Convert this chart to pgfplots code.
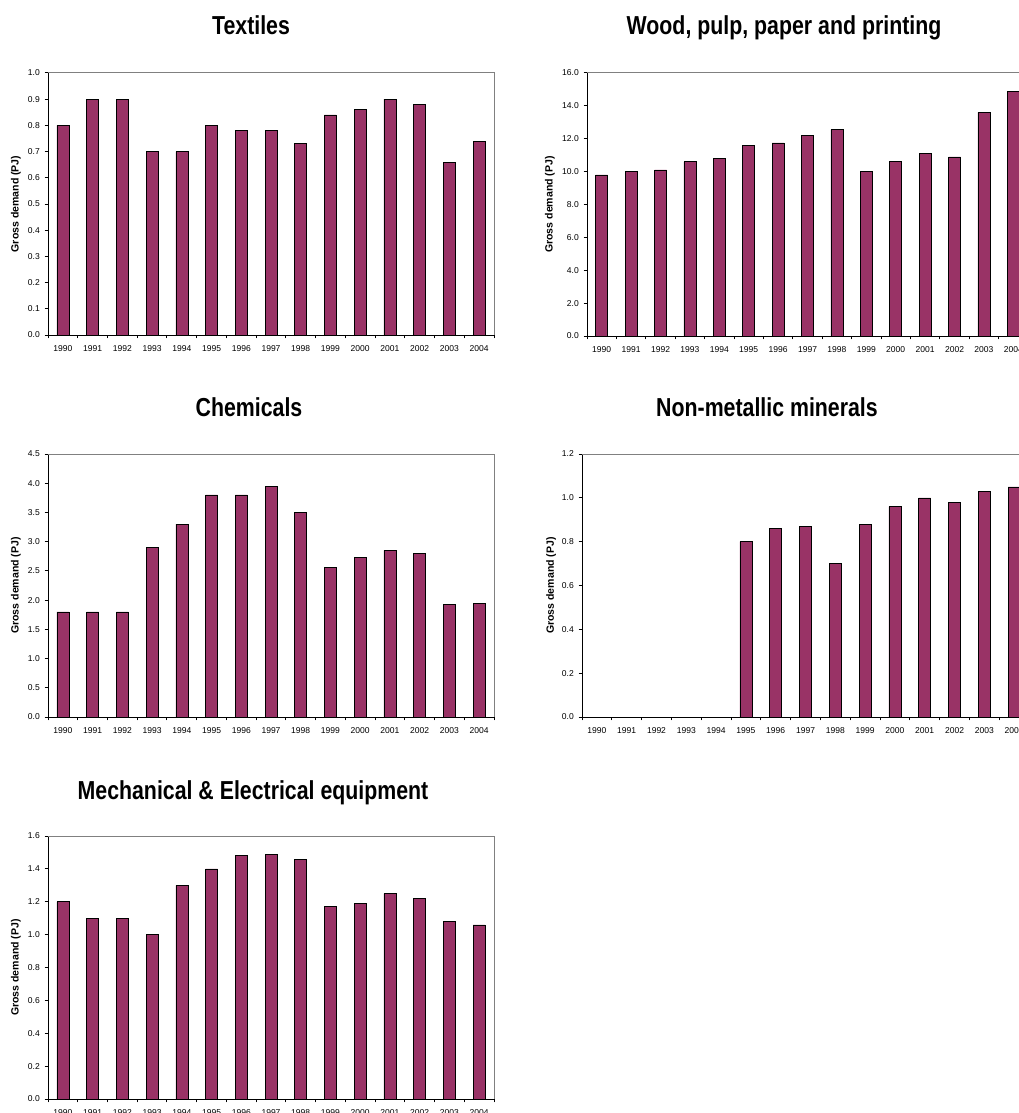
\documentclass[border=0pt]{standalone}
\usepackage{fontspec}
\setmainfont{Liberation Sans}
\newfontfamily\titlefont[FakeStretch=0.82]{Liberation Sans}
\usepackage{pgfplots}
\pgfplotsset{compat=1.18}
\definecolor{plum}{HTML}{993366}

\pgfplotsset{
  sector/.style={
    scale only axis,
    ybar, bar width=9pt,
    xmin=-0.5, xmax=14.5, ymin=0,
    enlargelimits=false,
    axis x line*=bottom, axis y line*=left,
    axis line style={black, line width=0.75pt, -},
    xtick={0,...,14},
    xticklabels={1990,1991,1992,1993,1994,1995,1996,1997,1998,1999,2000,2001,2002,2003,2004},
    minor xtick={-0.5,0.5,...,14.5},
    major x tick style={draw=none},
    tick align=outside,
    major tick length=2.6pt, minor tick length=2.6pt,
    tick style={black, line width=0.75pt},
    yticklabel style={/pgf/number format/.cd, fixed, fixed zerofill, precision=1, assume math mode=true},
    ticklabel style={font=\fontsize{6.4}{7}\selectfont},
    xticklabel style={yshift=-1.5pt},
    ylabel={Gross demand (PJ)},
    ylabel style={font=\fontsize{7.9}{9}\selectfont\bfseries, anchor=center},
    after end axis/.code={\draw[gray, line width=0.75pt] (rel axis cs:0,1) -- (rel axis cs:1,1) -- (rel axis cs:1,0);},
    cycle list={{fill=plum, draw=black, line width=0.6pt}},
  },
}
\tikzset{ttl/.style={font=\fontsize{19.5}{22}\selectfont\titlefont\bfseries, anchor=base}}

\begin{document}
\begin{tikzpicture}
\useasboundingbox (0,0) rectangle (763.5pt,-834.75pt);

% Textiles
\node[ttl] at (188.25pt,-25.7pt) {Textiles};
\begin{axis}[sector, at={(36pt,-54.75pt)}, anchor=north west,
  width=334.5pt, height=196.5pt, ymax=1.0, ytick distance=0.1,
  ylabel style={at={(axis description cs:-0.072,0.5)}}]
\addplot coordinates {(0,0.80) (1,0.90) (2,0.90) (3,0.70) (4,0.70) (5,0.80) (6,0.78) (7,0.78)
  (8,0.73) (9,0.84) (10,0.86) (11,0.90) (12,0.88) (13,0.66) (14,0.74)};
\end{axis}

% Wood, pulp, paper and printing
\node[ttl] at (588pt,-25.7pt) {Wood, pulp, paper and printing};
\begin{axis}[sector, at={(440.25pt,-54.75pt)}, anchor=north west,
  width=330.75pt, height=197.25pt, ymax=16, ytick distance=2,
  ylabel style={at={(axis description cs:-0.084,0.5)}}]
\addplot coordinates {(0,9.8) (1,10.0) (2,10.1) (3,10.6) (4,10.8) (5,11.6) (6,11.75) (7,12.2)
  (8,12.55) (9,10.0) (10,10.6) (11,11.1) (12,10.9) (13,13.6) (14,14.9)};
\end{axis}

% Chemicals
\node[ttl] at (186.75pt,-312pt) {Chemicals};
\begin{axis}[sector, at={(36pt,-340.5pt)}, anchor=north west,
  width=334.5pt, height=197.25pt, ymax=4.5, ytick distance=0.5,
  ylabel style={at={(axis description cs:-0.072,0.5)}}]
\addplot coordinates {(0,1.80) (1,1.80) (2,1.80) (3,2.90) (4,3.30) (5,3.80) (6,3.80) (7,3.95)
  (8,3.50) (9,2.56) (10,2.73) (11,2.85) (12,2.80) (13,1.93) (14,1.94)};
\end{axis}

% Non-metallic minerals
\node[ttl] at (575.25pt,-312pt) {Non-metallic minerals};
\begin{axis}[sector, at={(436.5pt,-340.5pt)}, anchor=north west,
  width=335.25pt, height=197.25pt, ymax=1.2, ytick distance=0.2,
  ylabel style={at={(axis description cs:-0.069,0.5)}}]
\addplot coordinates {(5,0.80) (6,0.86) (7,0.87) (8,0.70) (9,0.88) (10,0.96) (11,1.00)
  (12,0.98) (13,1.03) (14,1.05)};
\end{axis}

% Mechanical & Electrical equipment
\node[ttl] at (189.75pt,-599.25pt) {Mechanical \& Electrical equipment};
\begin{axis}[sector, at={(36pt,-627pt)}, anchor=north west,
  width=334.5pt, height=197.25pt, ymax=1.6, ytick distance=0.2,
  ylabel style={at={(axis description cs:-0.072,0.5)}}]
\addplot coordinates {(0,1.20) (1,1.10) (2,1.10) (3,1.00) (4,1.30) (5,1.40) (6,1.48) (7,1.49)
  (8,1.46) (9,1.17) (10,1.19) (11,1.25) (12,1.22) (13,1.08) (14,1.06)};
\end{axis}
\end{tikzpicture}
\end{document}
